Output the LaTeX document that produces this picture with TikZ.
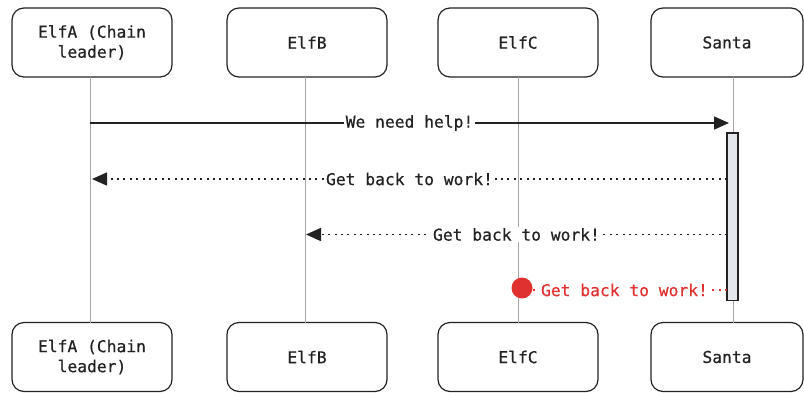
\documentclass[tikz,border=0pt]{standalone}
\usepackage{fontspec}
% regular mono face, drawn slightly heavier through a faked bold series
\newfontfamily\diafont{DejaVu Sans Mono}[BoldFont={DejaVu Sans Mono}, BoldFeatures={FakeBold=0.6}]
\usetikzlibrary{arrows.meta}
\definecolor{ink}{HTML}{222222}
\definecolor{lifegray}{HTML}{A6A6A6}
\definecolor{barfill}{HTML}{E3E6EA}
\definecolor{alertred}{HTML}{E03131}
\tikzset{
  actor/.style={draw=ink, line width=1.2pt, rounded corners=12pt, minimum height=69pt,
    minimum width=160pt, align=center, text=ink, inner sep=0pt,
    font=\diafont\bfseries\fontsize{16.3}{20}\selectfont},
  lifeline/.style={draw=lifegray, line width=0.9pt},
  msg/.style={draw=ink, line width=1.6pt, -{Triangle[length=15pt,width=13pt]}},
  reply/.style={msg, dash pattern=on 2pt off 4.4pt},
  msglabel/.style={fill=white, inner xsep=2pt, inner ysep=1pt, text=ink,
    font=\diafont\bfseries\fontsize{16.3}{20}\selectfont},
  actbar/.style={draw=ink, fill=barfill, line width=1.3pt},
}
\begin{document}
\begin{tikzpicture}[x=1pt,y=-1pt]
\useasboundingbox (0,0) rectangle (804,392);

% participant boxes, top row
\node[actor] (aT) at (92,42.5) {ElfA (Chain\\leader)};
\node[actor] (bT) at (307,42.5) {ElfB};
\node[actor] (cT) at (518,42.5) {ElfC};
\node[actor, minimum width=152pt] (sT) at (727,42.5) {Santa};

% participant boxes, bottom row
\node[actor] (aB) at (92,357) {ElfA (Chain\\leader)};
\node[actor] (bB) at (307,357) {ElfB};
\node[actor] (cB) at (518,357) {ElfC};
\node[actor, minimum width=152pt] (sB) at (727,357) {Santa};

% lifeline anchors
\coordinate (la1) at (90,77);   \coordinate (la2) at (90,323);
\coordinate (lb1) at (305,77);  \coordinate (lb2) at (305,323);
\coordinate (lc1) at (518,77);  \coordinate (lc2) at (518,323);
\coordinate (ls1) at (733,77);  \coordinate (ls2) at (733,323);
\draw[lifeline] (la1) -- (la2);
\draw[lifeline] (lb1) -- (lb2);
\draw[lifeline] (lc1) -- (lc2);
\draw[lifeline] (ls1) -- (ls2);

% activation of Santa
\draw[actbar] (727,133) rectangle (738,300.5);

% message end points
\coordinate (m1a) at (90,123);   \coordinate (m1b) at (729,123);
\coordinate (m2a) at (727,179);  \coordinate (m2b) at (92,179);
\coordinate (m3a) at (727,234.5);\coordinate (m3b) at (306,234.5);
\coordinate (m4a) at (727,290);  \coordinate (m4b) at (522,290);

\draw[msg] (m1a) -- node[msglabel] {We need help!} (m1b);
\draw[reply] (m2a) -- node[msglabel] {Get back to work!} (m2b);
\draw[reply] (m3a) -- node[msglabel] {Get back to work!} (m3b);

% lost reply ending at ElfC
\draw[draw=alertred, line width=1.6pt, dash pattern=on 2pt off 4.4pt] (m4a) --
  node[msglabel, text=alertred, inner xsep=4pt] {Get back to work!} (m4b);
\fill[alertred] (522,288) circle (10.5pt);
\end{tikzpicture}
\end{document}
